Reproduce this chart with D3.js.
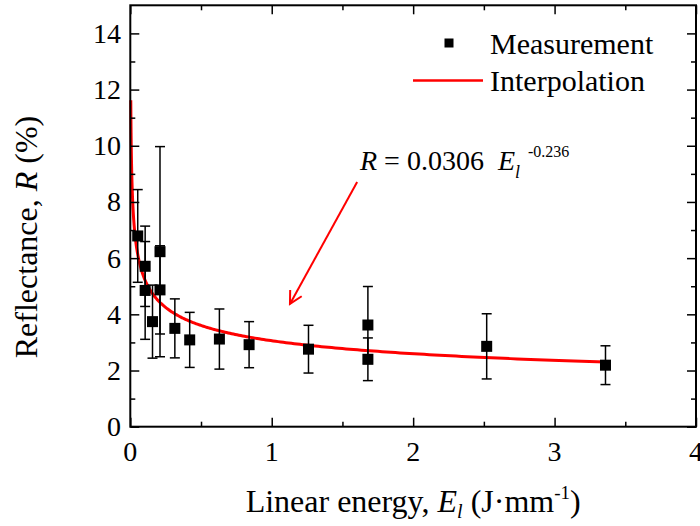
<!DOCTYPE html>
<html>
<head>
<meta charset="utf-8">
<script src="https://cdn.jsdelivr.net/npm/d3@7"></script>
<style>
  html, body { margin: 0; padding: 0; background: #fff; }
  svg { display: block; font-family: "Liberation Serif", "Times New Roman", serif; }
</style>
</head>
<body>
<svg id="chart" width="700" height="526"></svg>
<script>
// ---- data ----
const energy      = [0.0525, 0.105, 0.105, 0.157, 0.21, 0.21, 0.315, 0.42, 0.63, 0.84, 1.26, 1.68, 1.68, 2.52, 3.36];
const reflectance = [6.79, 5.71, 4.85, 3.74, 6.23, 4.87, 3.50, 3.09, 3.12, 2.92, 2.76, 3.62, 2.40, 2.86, 2.19];
const errors      = [1.65, 1.43, 1.74, 1.30, 3.74, 1.57, 1.05, 0.98, 1.07, 0.82, 0.85, 1.37, 0.76, 1.16, 0.69];
// fitted power law shown in the chart: R(%) = 3.06 * E^-0.236  (R = 0.0306 E^-0.236 as fraction)
const fitCoef = 3.06;
const fitExp = -0.236;
const fitRange = [0.0035, 3.36];
const xTicks = [0, 1, 2, 3, 4];
const yTicks = [0, 2, 4, 6, 8, 10, 12, 14];
const legendLabels = ["Measurement", "Interpolation"];
// annotation arrow (data coords): from near the equation to the curve
const arrowFrom = [1.604, 8.71];
const arrowTo = [1.129, 4.37];

const svg = d3.select("#chart");
const L = 130.3, R = 696, T = 5.3, B = 426.7;
const x = d3.scaleLinear().domain([0, 4]).range([L, R]);
const y = d3.scaleLinear().domain([0, 15]).range([B, T]);

// ---- fit curve ----
const n = 400;
const lo = Math.log(fitRange[0]), hi = Math.log(fitRange[1]);
const fitPts = d3.range(n + 1).map(i => {
  const e = Math.exp(lo + (hi - lo) * i / n);
  return [e, fitCoef * Math.pow(e, fitExp)];
});
svg.append("path")
  .datum(fitPts)
  .attr("fill", "none")
  .attr("stroke", "#ff0000")
  .attr("stroke-width", 3)
  .attr("d", d3.line().x(d => x(d[0])).y(d => y(d[1])));

// ---- error bars ----
const data = energy.map((e, i) => ({ e, r: reflectance[i], err: errors[i] }));
const eb = svg.append("g").attr("stroke", "#000").attr("stroke-width", 1.5);
data.forEach(d => {
  const cx = x(d.e), y1 = y(d.r + d.err), y2 = y(d.r - d.err);
  eb.append("line").attr("x1", cx).attr("x2", cx).attr("y1", y1).attr("y2", y2);
  eb.append("line").attr("x1", cx - 5).attr("x2", cx + 5).attr("y1", y1).attr("y2", y1);
  eb.append("line").attr("x1", cx - 5).attr("x2", cx + 5).attr("y1", y2).attr("y2", y2);
});
// ---- markers ----
const ms = 11;
svg.append("g").selectAll("rect").data(data).join("rect")
  .attr("x", d => x(d.e) - ms / 2)
  .attr("y", d => y(d.r) - ms / 2)
  .attr("width", ms).attr("height", ms)
  .attr("fill", "#000");

// ---- axes (ticks inward, on all four sides) ----
function tickAxis(axisFn, scale, vals, size, translate) {
  const g = svg.append("g").attr("transform", translate);
  g.call(axisFn(scale).tickValues(vals).tickSize(size).tickFormat(""));
  g.select(".domain").remove();
  g.selectAll("line").attr("stroke", "#000").attr("stroke-width", 1.5);
  return g;
}
const xMajor = xTicks, xMinor = [0.5, 1.5, 2.5, 3.5];
const yMajor = yTicks, yMinor = [1, 3, 5, 7, 9, 11, 13];
tickAxis(d3.axisTop, x, xMajor, 9, `translate(0,${B})`);
tickAxis(d3.axisTop, x, xMinor, 5, `translate(0,${B})`);
tickAxis(d3.axisBottom, x, xMajor, 9, `translate(0,${T})`);
tickAxis(d3.axisBottom, x, xMinor, 5, `translate(0,${T})`);
tickAxis(d3.axisRight, y, yMajor, 9, `translate(${L},0)`);
tickAxis(d3.axisRight, y, yMinor, 5, `translate(${L},0)`);
tickAxis(d3.axisLeft, y, yMajor, 9, `translate(${R},0)`);
tickAxis(d3.axisLeft, y, yMinor, 5, `translate(${R},0)`);

svg.append("rect")
  .attr("x", L).attr("y", T).attr("width", R - L).attr("height", B - T)
  .attr("fill", "none").attr("stroke", "#000").attr("stroke-width", 2);

// tick labels
svg.append("g").selectAll("text").data(xTicks).join("text")
  .attr("x", d => x(d)).attr("y", 461)
  .attr("text-anchor", "middle")
  .attr("font-size", 28)
  .text(d => d);
svg.append("g").selectAll("text").data(yTicks).join("text")
  .attr("x", 121).attr("y", d => y(d) + 9.5)
  .attr("text-anchor", "end")
  .attr("font-size", 28)
  .text(d => d);

// axis titles
const xt = svg.append("text")
  .attr("x", (L + R) / 2).attr("y", 512)
  .attr("text-anchor", "middle").attr("font-size", 32);
xt.append("tspan").text("Linear energy, ");
xt.append("tspan").attr("font-style", "italic").text("E");
xt.append("tspan").attr("font-style", "italic").attr("font-size", 20).attr("dy", 6).text("l");
xt.append("tspan").attr("dy", -6).text(" (J·mm");
xt.append("tspan").attr("font-size", 19).attr("dy", -13).text("-1");
xt.append("tspan").attr("dy", 13).text(")");

const yt = svg.append("text")
  .attr("transform", `translate(37,237) rotate(-90)`)
  .attr("text-anchor", "middle").attr("font-size", 32);
yt.append("tspan").text("Reflectance, ");
yt.append("tspan").attr("font-style", "italic").text("R");
yt.append("tspan").text(" (%)");

// ---- legend ----
svg.append("rect").attr("x", 444.5).attr("y", 38.5).attr("width", 9).attr("height", 9).attr("fill", "#000");
svg.append("text").attr("x", 490).attr("y", 54).attr("font-size", 30).text(legendLabels[0]);
svg.append("line").attr("x1", 413).attr("x2", 483).attr("y1", 80.5).attr("y2", 80.5)
  .attr("stroke", "#ff0000").attr("stroke-width", 2.5);
svg.append("text").attr("x", 490).attr("y", 91).attr("font-size", 30).text(legendLabels[1]);

// ---- equation ----
const eq = svg.append("text").attr("x", 360).attr("y", 170).attr("font-size", 28);
eq.append("tspan").attr("font-style", "italic").text("R");
eq.append("tspan").text(" = 0.0306");
eq.append("tspan").attr("font-style", "italic").attr("dx", 14).text("E");
eq.append("tspan").attr("font-style", "italic").attr("font-size", 18).attr("dy", 8).text("l");
eq.append("tspan").attr("font-size", 16).attr("dy", -21).attr("dx", 8).text("-0.236");

// ---- arrow ----
const ax0 = x(arrowFrom[0]), ay0 = y(arrowFrom[1]);
const ax1 = x(arrowTo[0]), ay1 = y(arrowTo[1]);
const ag = svg.append("g").attr("stroke", "#ff0000").attr("stroke-width", 2).attr("fill", "none");
ag.append("line").attr("x1", ax0).attr("y1", ay0).attr("x2", ax1).attr("y2", ay1);
const ang = Math.atan2(ay0 - ay1, ax0 - ax1);
const hl = 14, spread = 28 * Math.PI / 180;
const w1 = [ax1 + hl * Math.cos(ang - spread), ay1 + hl * Math.sin(ang - spread)];
const w2 = [ax1 + hl * Math.cos(ang + spread), ay1 + hl * Math.sin(ang + spread)];
ag.append("path").attr("d", `M${w1[0]},${w1[1]}L${ax1},${ay1}L${w2[0]},${w2[1]}`);
</script>
</body>
</html>
